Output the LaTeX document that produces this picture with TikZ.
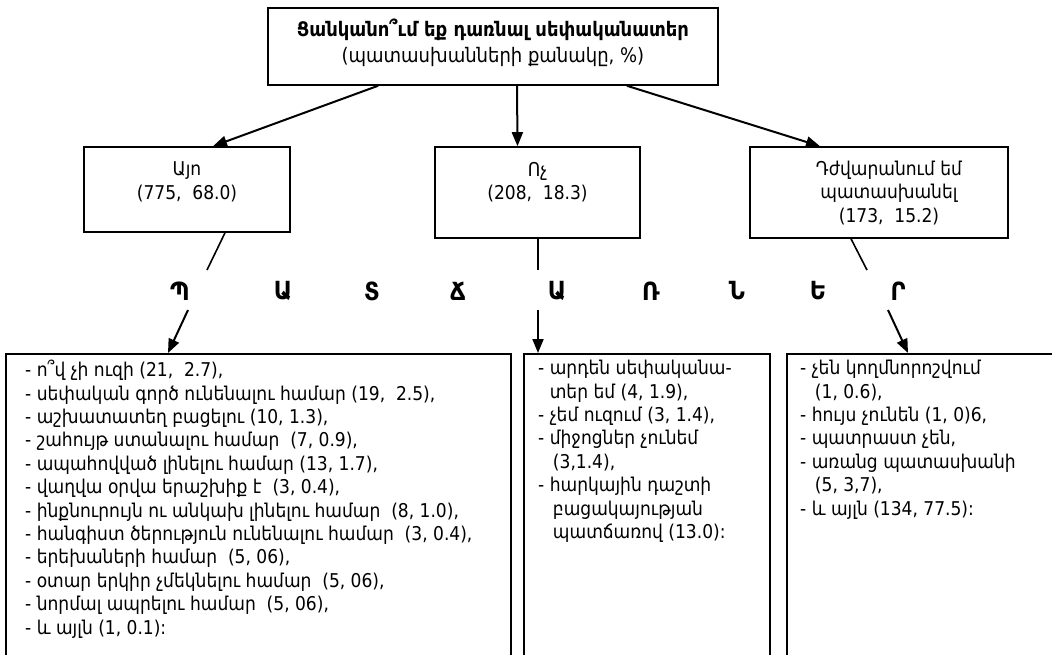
\documentclass[tikz,border=0pt]{standalone}
\usepackage{fontspec}
\setmainfont{DejaVu Sans Condensed}
\usetikzlibrary{arrows.meta}
\begin{document}
\begin{tikzpicture}[x=1pt,y=-1pt,
  box/.style={draw, line width=1.6pt, inner sep=0pt},
  body/.style={font=\fontsize{19}{23.4}\selectfont, inner sep=0pt},
  ctr/.style={body, align=center},
  lft/.style={body, align=left, anchor=north west},
  arr/.style={line width=2pt, -{Triangle[length=14pt,width=11pt]}},
  ln/.style={line width=1.6pt},
  letter/.style={font=\fontsize{25}{25}\bfseries\selectfont, inner sep=0pt}]
\useasboundingbox (0,0) rectangle (1052,654);
\clip (0,0) rectangle (1052,654);

% top
\node[box, minimum width=450pt, minimum height=77pt] (top) at (493,46.5) {};
\node[body, align=center, font=\fontsize{20}{26}\selectfont] (toptxt) at (493,43)
  {{\bfseries Ցանկանո՞ւմ եք դառնալ սեփականատեր}\\(պատասխանների քանակը, \%)};

% middle row
\node[box, minimum width=206pt, minimum height=85pt] (yes) at (187,189.5) {};
\node[ctr] (yestxt) at (187,182) {Այո\\(775,~ 68.0)};
\node[box, minimum width=205pt, minimum height=91pt] (no) at (537.5,192.5) {};
\node[ctr] (notxt) at (537.5,182) {Ոչ\\(208,~ 18.3)};
\node[box, minimum width=258pt, minimum height=91pt] (hard) at (879,192.5) {};
\node[ctr] (hardtxt) at (889,193) {Դժվարանում եմ\\պատասխանել\\(173,~ 15.2)};

% arrows from top
\draw[arr] ([xshift=-115pt]top.south) -- ([xshift=26pt]yes.north);
\draw[arr] ([xshift=24pt]top.south) -- ([xshift=-20pt]no.north);
\draw[arr] ([xshift=134pt]top.south) -- ([xshift=-59pt]hard.north);

% letters row
\node[letter] (l1) at (180,291) {Պ};
\node[letter] (l2) at (283,291) {Ա};
\node[letter] (l3) at (372,291) {Տ};
\node[letter] (l4) at (458,291) {Ճ};
\node[letter] (l5) at (557,291) {Ա};
\node[letter] (l6) at (651,291) {Ռ};
\node[letter] (l7) at (737,291) {Ն};
\node[letter] (l8) at (818,291) {Ե};
\node[letter] (l9) at (898,291) {Ր};

% bottom boxes
\node[box, anchor=north west, minimum width=505pt, minimum height=347pt] (bl) at (5,353) {};
\node[box, anchor=north west, minimum width=246pt, minimum height=347pt] (bm) at (523,353) {};
\node[box, anchor=north west, minimum width=290pt, minimum height=347pt] (br) at (786,353) {};

\coordinate (a1) at (207,270);
\coordinate (a2) at (188,310);
\coordinate (b1) at (538,270);
\coordinate (b2) at (538,310);
\coordinate (c1) at (867,270);
\coordinate (c2) at (888,310);
\draw[ln] ([xshift=38pt]yes.south) -- (a1);
\draw[arr] (a2) -- ([xshift=163pt]bl.north west);
\draw[ln] ([xshift=0.5pt]no.south) -- (b1);
\draw[arr] (b2) -- ([xshift=15pt]bm.north west);
\draw[ln] ([xshift=-28pt]hard.south) -- (c1);
\draw[arr] (c2) -- ([xshift=122pt]br.north west);

% texts of bottom boxes
\node[lft] (bltxt) at (25,360) {%
- ո՞վ չի ուզի (21,~ 2.7),\\
- սեփական գործ ունենալու համար (19,~ 2.5),\\
- աշխատատեղ բացելու (10, 1.3),\\
- շահույթ ստանալու համար~ (7, 0.9),\\
- ապահովված լինելու համար (13, 1.7),\\
- վաղվա օրվա երաշխիք է~ (3, 0.4),\\
- ինքնուրույն ու անկախ լինելու համար~ (8, 1.0),\\
- հանգիստ ծերություն ունենալու համար~ (3, 0.4),\\
- երեխաների համար~ (5, 06),\\
- օտար երկիր չմեկնելու համար~ (5, 06),\\
- նորմալ ապրելու համար~ (5, 06),\\
- և այլն (1, 0.1):};
\node[lft] (bmtxt) at (538,360) {%
- արդեն սեփականա-\\
\phantom{- }տեր եմ (4, 1.9),\\
- չեմ ուզում (3, 1.4),\\
- միջոցներ չունեմ\\
\phantom{- }\,(3,1.4),\\
- հարկային դաշտի\\
\phantom{- }\,բացակայության\\
\phantom{- }\,պատճառով (13.0):};
\node[lft] (brtxt) at (800,360) {%
- չեն կողմնորոշվում\\
\phantom{- }\,(1, 0.6),\\
- հույս չունեն (1, 0)6,\\
- պատրաստ չեն,\\
- առանց պատասխանի\\
\phantom{- }\,(5, 3,7),\\
- և այլն (134, 77.5):};
\end{tikzpicture}
\end{document}
